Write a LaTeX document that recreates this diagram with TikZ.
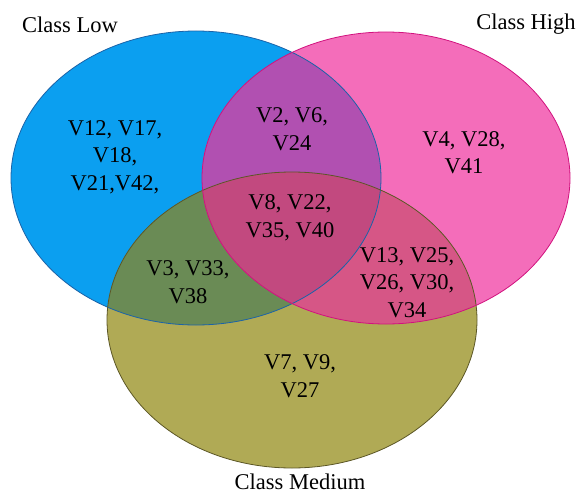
\documentclass[tikz,border=0pt]{standalone}
\usepackage{fontspec}
\setmainfont{Liberation Serif}
\usetikzlibrary{positioning}
\definecolor{lowfill}{HTML}{0B9FF0}
\definecolor{highfill}{HTML}{F46DBA}
\definecolor{medfill}{HTML}{B0AA55}
\definecolor{lowhighfill}{HTML}{B150B1}
\definecolor{lowmedfill}{HTML}{6A8B55}
\definecolor{highmedfill}{HTML}{D65686}
\definecolor{allfill}{HTML}{C2497F}
\definecolor{lowdraw}{HTML}{1B63A8}
\definecolor{highdraw}{HTML}{D1127E}
\definecolor{meddraw}{HTML}{5C5726}
\tikzset{
lowset/.style={insert path={(196,178) ellipse [x radius=185, y radius=147]}},
highset/.style={insert path={(386,178) ellipse [x radius=184, y radius=146]}},
medset/.style={insert path={(292,320) ellipse [x radius=185, y radius=148]}}
}
\tikzset{
setlabel/.style={
  font=\fontsize{22.5}{27.5}\selectfont,
  inner sep=0pt,
  align=center,
  },
setname/.style={
  font=\fontsize{22.5}{27.5}\selectfont,
  inner sep=0pt,
  }
}
\tikzset{
setline/.style={
  line width=0.8pt,
  }
}

\begin{document}
\begin{tikzpicture}[x=1pt,y=-1pt]
    \useasboundingbox (0,0) rectangle (580,497);

    % single sets
    \fill[lowfill, lowset];
    \fill[highfill, highset];
    \fill[medfill, medset];

    % overlaps
    \begin{scope}
      \clip[lowset];
      \fill[lowmedfill, medset];
    \end{scope}
    \begin{scope}
      \clip[highset];
      \fill[highmedfill, medset];
    \end{scope}
    \begin{scope}
      \clip[lowset];
      \fill[lowhighfill, highset];
      \clip[highset];
      \fill[allfill, medset];
    \end{scope}

    % outlines
    \draw[setline, lowdraw, lowset];
    \draw[setline, meddraw, medset];
    \draw[setline, highdraw, highset];

    % set names
    \node[setname] (low_name) at (70,24.5) {Class Low};
    \node[setname] (high_name) at (526,24.5) {Class High};
    \node[setname] (med_name) at (300,482) {Class Medium};

    % members
    \node[setlabel] (low_only) at (115,157) {V12, V17,\\V18,\\V21,V42,};
    \node[setlabel] (high_only) at (464,152.5) {V4, V28,\\V41};
    \node[setlabel] (med_only) at (300,376) {V7, V9,\\V27};
    \node[setlabel] (low_high) at (292,129) {V2, V6,\\V24};
    \node[setlabel] (low_med) at (188,282) {V3, V33,\\V38};
    \node[setlabel] (high_med) at (407,282.5) {V13, V25,\\V26, V30,\\V34};
    \node[setlabel] (all_sets) at (290,217.5) {V8, V22,\\V35, V40};
\end{tikzpicture}
\end{document}
